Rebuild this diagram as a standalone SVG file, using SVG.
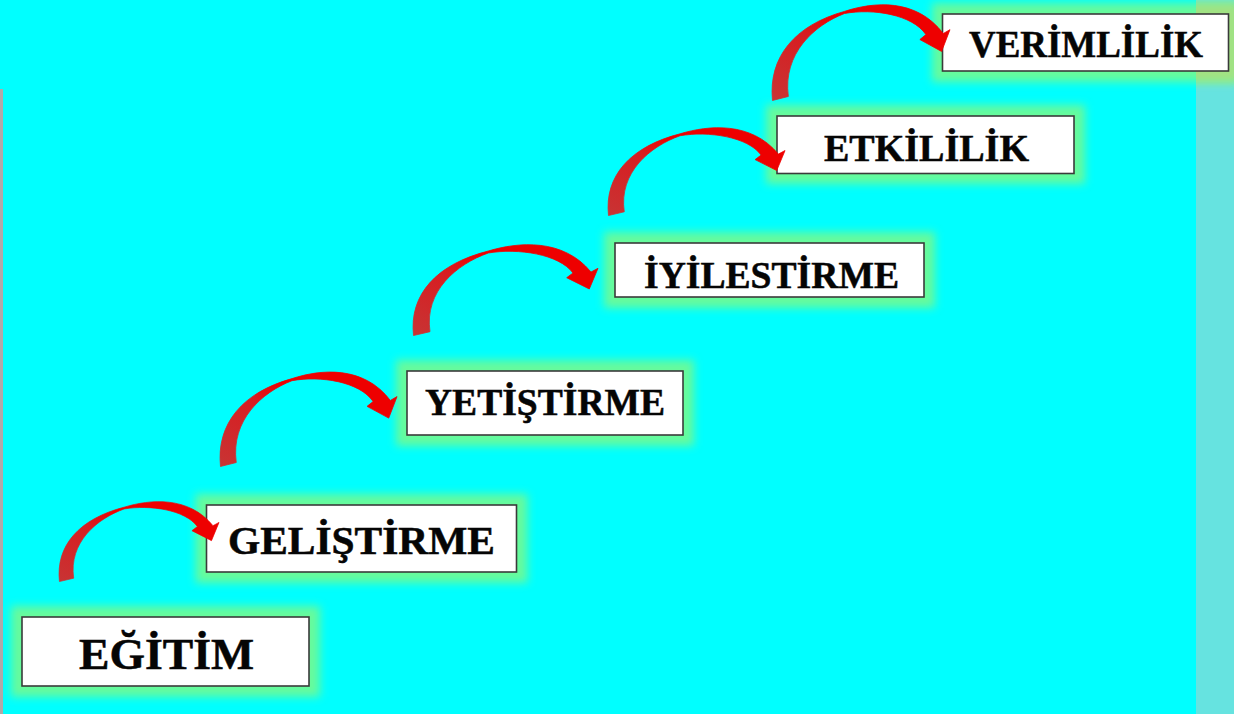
<svg xmlns="http://www.w3.org/2000/svg" xmlns:xlink="http://www.w3.org/1999/xlink" width="1234" height="714" viewBox="0 0 1234 714">
<style>
.glow{fill:#66fb9c;filter:url(#soft)}
.box{fill:#fff;stroke:#3a3a3a;stroke-width:1.6}
.lbl{font-family:"Liberation Serif","Times New Roman",serif;font-weight:700;fill:#050505;stroke:#050505;stroke-width:.5;text-anchor:start}
</style>
<defs>
<filter id="soft" x="-20%" y="-50%" width="140%" height="200%"><feGaussianBlur stdDeviation="4.2"/></filter>
<clipPath id="stripclip"><rect x="1196" y="0" width="38" height="714"/></clipPath>
<linearGradient id="red" x1="0" y1="1" x2="1" y2="0">
<stop offset="0" stop-color="#c83434"/><stop offset="0.45" stop-color="#d81c20"/><stop offset="0.62" stop-color="#ee0000"/><stop offset="1" stop-color="#ee0000"/>
</linearGradient>
<path id="arc" fill="url(#red)" stroke="url(#red)" stroke-width="0.8" d="M0.500,-0.500 C-4,-42 24,-72 75.300,-85 C105,-94 150,-98 178,-64 L185,-67.700 L176.300,-47 L153.700,-58.300 L160,-63 C146,-82 105,-88 75.300,-83 C44,-72 11,-45 17,-4.300 Z"/>
</defs>
<rect id="background" width="1234" height="714" fill="#00ffff"/>
<rect id="strip-right" x="1196" y="0" width="38" height="714" fill="#66e3e0"/>
<rect id="strip-left" x="0" y="89" width="3" height="625" fill="#b0a8a8"/>

<g id="node-egitim">
<rect class="glow" x="11" y="606" width="309" height="91"/>
<rect class="box" x="22" y="617" width="287" height="69"/>
<text class="lbl" x="79" y="669" font-size="44" textLength="175" lengthAdjust="spacingAndGlyphs">EĞİTİM</text>
</g>
<g id="node-gelistirme">
<rect class="glow" x="195.500" y="494" width="332" height="89"/>
<rect class="box" x="206.500" y="505" width="310" height="67"/>
<text class="lbl" x="228" y="554" font-size="40" textLength="267" lengthAdjust="spacingAndGlyphs">GELİŞTİRME</text>
</g>
<g id="node-yetistirme">
<rect class="glow" x="396" y="360" width="298" height="86"/>
<rect class="box" x="407" y="371" width="276" height="64"/>
<text class="lbl" x="425" y="415" font-size="37" textLength="240" lengthAdjust="spacingAndGlyphs">YETİŞTİRME</text>
</g>
<g id="node-iyilestirme">
<rect class="glow" x="604" y="232" width="331" height="76"/>
<rect class="box" x="615" y="243" width="309" height="54"/>
<text class="lbl" x="644" y="288" font-size="37" textLength="255" lengthAdjust="spacingAndGlyphs">İYİLESTİRME</text>
</g>
<g id="node-etkililik">
<rect class="glow" x="766" y="105" width="319" height="79"/>
<rect class="box" x="777" y="116" width="297" height="57.500"/>
<text class="lbl" x="824" y="161" font-size="38" textLength="205" lengthAdjust="spacingAndGlyphs">ETKİLİLİK</text>
</g>
<g id="node-verimlilik">
<rect class="glow" x="932" y="3" width="308" height="79"/>
<g clip-path="url(#stripclip)"><rect x="932" y="3" width="308" height="79" fill="#a2e283" filter="url(#soft)"/></g>
<rect class="box" x="942.500" y="14" width="286" height="57"/>
<text class="lbl" x="969" y="57" font-size="37" textLength="234" lengthAdjust="spacingAndGlyphs">VERİMLİLİK</text>
</g>

<g id="connectors">
<use href="#arc" xlink:href="#arc" transform="translate(59,582) scale(.865,.88)"/>
<use href="#arc" xlink:href="#arc" transform="translate(220,467) scale(.957,1.04)"/>
<use href="#arc" xlink:href="#arc" transform="translate(413,336)"/>
<use href="#arc" xlink:href="#arc" transform="translate(608,216) scale(.957,.967)"/>
<use href="#arc" xlink:href="#arc" transform="translate(772,101) scale(.962,1.054)"/>
</g>
</svg>
